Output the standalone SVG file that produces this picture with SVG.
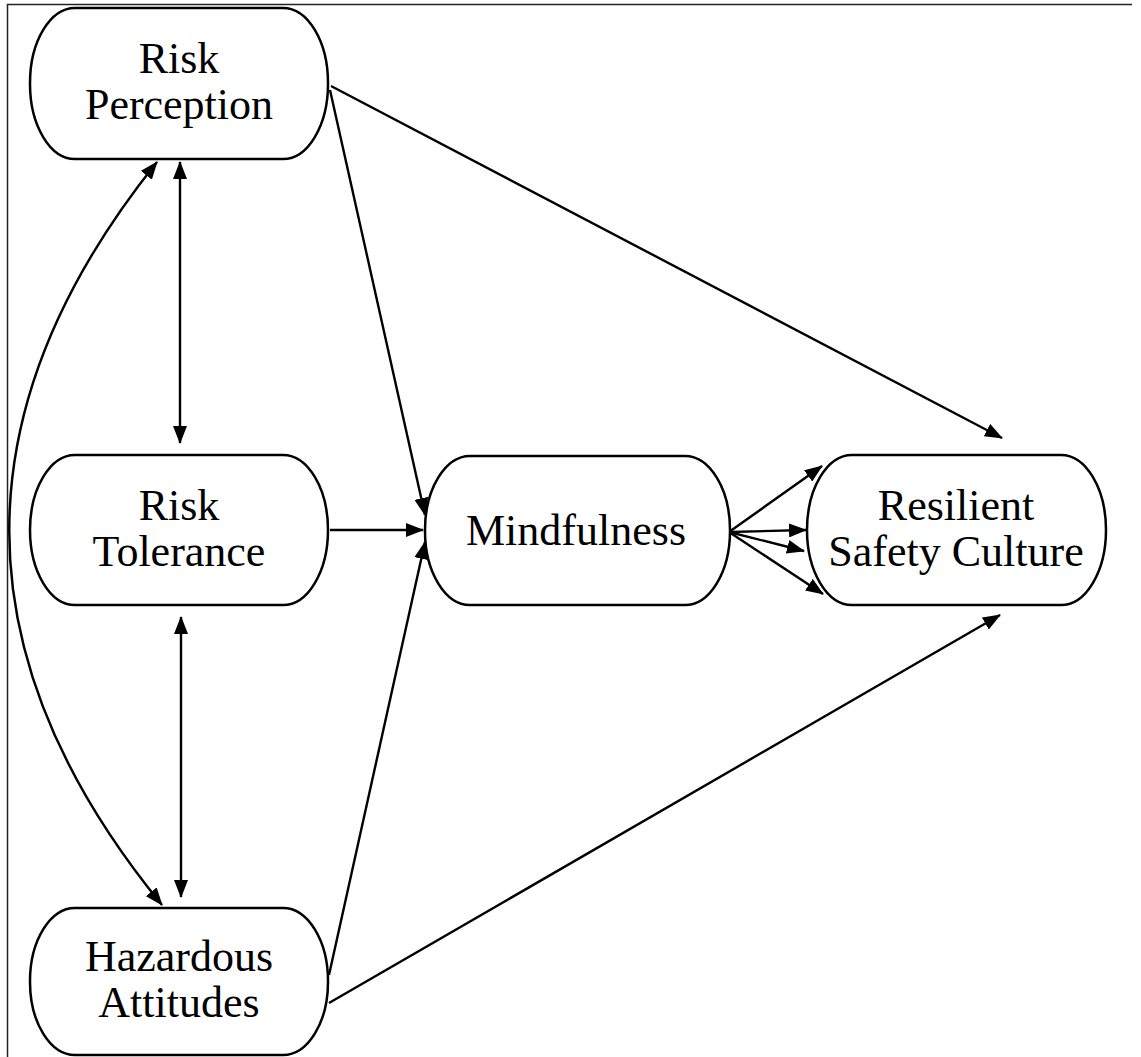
<svg xmlns="http://www.w3.org/2000/svg" width="1141" height="1057" viewBox="0 0 1141 1057">
<style>
.node rect{fill:#fff;stroke:#000;stroke-width:2.5}
.node text{font-family:"Liberation Serif","Times New Roman",serif;font-size:44px;fill:#000;text-anchor:middle}
.conn path{fill:none;stroke:#000;stroke-width:2.4}
</style>
<defs>
<marker id="ah" markerUnits="userSpaceOnUse" markerWidth="18" markerHeight="14" refX="17" refY="7" orient="auto-start-reverse" viewBox="0 0 18 14">
<path d="M0,0 L18,7 L0,14 z" fill="#000"/>
</marker>
</defs>
<rect width="1141" height="1057" fill="#fff"/>
<path d="M7.5,1057 L7.5,4.5 L1132,4.5" fill="none" stroke="#222" stroke-width="1.5"/>
<g class="conn">
<path d="M331,86 L1002,438" marker-end="url(#ah)"/>
<path d="M330,90 L425,515" marker-end="url(#ah)"/>
<path d="M330,530 L423,530" marker-end="url(#ah)"/>
<path d="M329,975 L425,542" marker-end="url(#ah)"/>
<path d="M329,1003 L1000,615" marker-end="url(#ah)"/>
<path d="M729,532 L822,466" marker-end="url(#ah)"/>
<path d="M729,532 L806,530" marker-end="url(#ah)"/>
<path d="M729,532 L804,551" marker-end="url(#ah)"/>
<path d="M729,532 L823,594" marker-end="url(#ah)"/>
<path d="M180,162 L180,443" marker-start="url(#ah)" marker-end="url(#ah)"/>
<path d="M181,617 L181,897" marker-start="url(#ah)" marker-end="url(#ah)"/>
<path d="M157,162 Q-141,534 162,905" marker-start="url(#ah)" marker-end="url(#ah)"/>
</g>
<g id="risk-perception" class="node">
<rect x="30" y="8" width="298" height="151" rx="45" ry="75"/>
<text x="179" y="73">Risk</text>
<text x="179" y="119">Perception</text>
</g>
<g id="risk-tolerance" class="node">
<rect x="30" y="455" width="298" height="150" rx="45" ry="75"/>
<text x="179" y="520">Risk</text>
<text x="179" y="566">Tolerance</text>
</g>
<g id="hazardous-attitudes" class="node">
<rect x="30" y="908" width="298" height="147" rx="45" ry="73"/>
<text x="179" y="971">Hazardous</text>
<text x="179" y="1017">Attitudes</text>
</g>
<g id="mindfulness" class="node">
<rect x="425" y="456" width="305" height="149" rx="45" ry="74"/>
<text x="576" y="545">Mindfulness</text>
</g>
<g id="resilient-safety-culture" class="node">
<rect x="807" y="455" width="299" height="150" rx="45" ry="75"/>
<text x="956" y="520">Resilient</text>
<text x="956" y="566">Safety Culture</text>
</g>
</svg>
